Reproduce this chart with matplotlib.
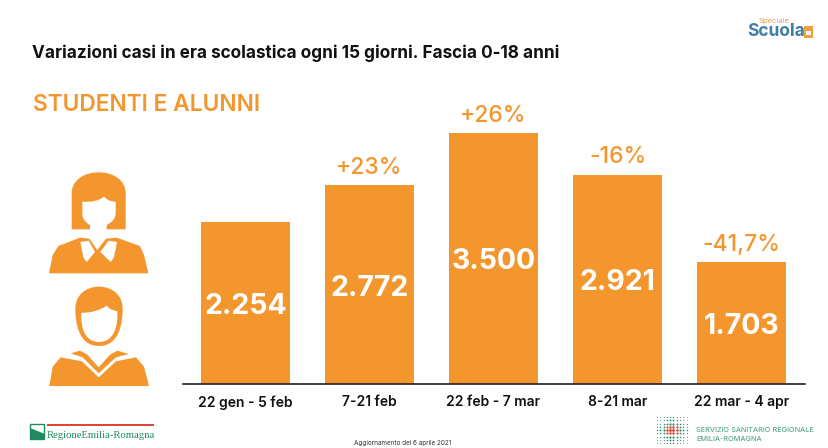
# Variazioni casi in era scolastica, fascia 0-18 anni

import matplotlib
matplotlib.use("Agg")
import matplotlib.pyplot as plt
from matplotlib.patches import Polygon, PathPatch, Rectangle
from matplotlib.path import Path

periods = ["22 gen - 5 feb", "7-21 feb", "22 feb - 7 mar", "8-21 mar", "22 mar - 4 apr"]
cases = [2254, 2772, 3500, 2921, 1703]
case_labels = ["2.254", "2.772", "3.500", "2.921", "1.703"]
changes = ["", "+23%", "+26%", "-16%", "-41,7%"]

orange = "#F4962E"
W, H = 829, 448

plt.rcParams['font.family'] = ['Inter', 'DejaVu Sans']
fig = plt.figure(figsize=(W/100, H/100), dpi=100)

# main chart, placed by pixel position of the baseline
left, right, top, bottom = 183, 805, 100, 384
ax = fig.add_axes([left/W, 1-bottom/H, (right-left)/W, (bottom-top)/H])
ax.bar(range(len(cases)), cases, width=0.718, color=orange)
ax.set_xlim(-0.504, 4.512)
ax.set_ylim(0, 3960)
for s in ("top", "left", "right"):
  ax.spines[s].set_visible(False)
ax.spines["bottom"].set_linewidth(1.2)
ax.spines["bottom"].set_color("#222222")
ax.set_yticks([])
ax.set_xticks(range(len(periods)))
ax.set_xticklabels(periods, fontsize=10, fontweight="semibold", color="#111111")
ax.tick_params(axis='x', length=0, pad=8)
ax.patch.set_alpha(0)

for i, v in enumerate(cases):
  ax.annotate(case_labels[i], (i, v/2), ha='center', va='center', fontsize=20.5,
              fontweight="bold", color="white", xytext=(0, -2.5), textcoords="offset points")
  if changes[i]:
    ax.annotate(changes[i], (i, v), ha='center', va='bottom', fontsize=16.5,
                fontweight="medium", color=orange, xytext=(0, 4.5), textcoords="offset points")

# overlay in pixel coordinates for the slide furniture
ov = fig.add_axes([0, 0, 1, 1], zorder=-1)
ov.set_xlim(0, W)
ov.set_ylim(H, 0)
ov.axis("off")

ov.text(32, 53, "Variazioni casi in era scolastica ogni 15 giorni. Fascia 0-18 anni",
        fontsize=12.37, fontweight="bold", color="#111111", va="center")
ov.text(33, 105, "STUDENTI E ALUNNI", fontsize=16.4, fontweight="semibold", color=orange, va="center")
ov.text(354, 443, "Aggiornamento del 6 aprile 2021", fontsize=4.6, color="#333333", va="center")


def z(pts, x0=0, y0=150):
  return [(x0 + x/3, y0 + y/3) for x, y in pts]


def shape(codes_pts, color):
  verts, codes = [], []
  for c, p in codes_pts:
    verts.append(z([p])[0])
    codes.append(c)
  ov.add_patch(PathPatch(Path(verts, codes), fc=color, ec="none"))


M, L, C, B, X = Path.MOVETO, Path.LINETO, Path.CURVE3, Path.CURVE4, Path.CLOSEPOLY

# woman: hair
shape([(M, (215, 238)), (L, (215, 130)), (B, (215, 92)), (B, (250, 67)), (B, (296, 67)),
       (B, (342, 67)), (B, (377, 92)), (B, (377, 130)),
       (L, (377, 238)), (L, (320, 238)), (L, (320, 225)), (C, (347, 212)), (C, (347, 190)), (L, (347, 155)),
       (C, (325, 155)), (C, (312, 140)), (C, (290, 158)), (C, (247, 155)), (L, (247, 195)), (C, (250, 215)),
       (C, (270, 225)), (L, (270, 238)), (X, (215, 238))], orange)
# woman: body, with a white neck and collar cut into it
ov.add_patch(Polygon(z([(147, 370), (158, 315), (175, 288), (240, 263), (268, 266), (292, 300), (318, 266),
                        (350, 263), (420, 288), (432, 315), (445, 370)]), fc=orange, ec="none"))
ov.add_patch(Polygon(z([(241, 276), (266, 272), (285, 306), (260, 336), (250, 322)]), fc="white", ec="none"))
ov.add_patch(Polygon(z([(351, 276), (326, 272), (301, 306), (332, 336), (342, 322)]), fc="white", ec="none"))

# man: hair and face outline
shape([(M, (226, 475)), (B, (226, 435)), (B, (258, 410)), (B, (297, 410)),
       (B, (336, 410)), (B, (368, 435)), (B, (368, 475)),
       (B, (368, 520)), (B, (358, 588)), (B, (297, 588)),
       (B, (236, 588)), (B, (226, 520)), (B, (226, 475)), (X, (226, 475))], orange)
shape([(M, (244, 488)), (C, (285, 490)), (C, (320, 467)), (C, (330, 480)), (C, (352, 484)),
       (B, (354, 530)), (B, (342, 576)), (B, (297, 576)),
       (B, (252, 576)), (B, (242, 530)), (B, (244, 488)), (X, (244, 488))], "white")
# man: body
ov.add_patch(Polygon(z([(148, 708), (158, 650), (182, 622), (246, 634), (296, 682), (348, 634), (408, 622),
                        (432, 650), (447, 708)]), fc=orange, ec="none"))
ov.add_patch(Polygon(z([(212, 610), (240, 602), (262, 614), (296, 652), (330, 614), (352, 602), (386, 612),
                        (348, 622), (296, 670), (248, 622)]), fc=orange, ec="none"))

# Regione Emilia-Romagna logo
ov.add_patch(Rectangle((47, 424), 107, 2, fc="#D9473A", ec="none"))
ov.add_patch(Rectangle((30.5, 424.5), 14, 15, fc="white", ec="#1F8A5F", lw=1))
ov.add_patch(Polygon([(30, 428), (45, 434), (45, 440), (30, 440)], fc="#1F8A5F", ec="none"))
ov.text(46.5, 436, "RegioneEmilia-Romagna", family="Liberation Serif", fontsize=7.7, color="#1F8A5F", va="center")

# Servizio sanitario logo: dot grid
dots_x = [657 + 3.3*i for i in range(10)]
dots_y = [417 + 3.3*j for j in range(9)]
for i, dx in enumerate(dots_x):
  for j, dy in enumerate(dots_y):
    d = abs(i-4.5) + abs(j-4)
    col = "#D9473A" if abs(i-4.5) < 2 and abs(j-4) < 2 else "#2E8B63"
    ov.plot(dx, dy, marker="o", ms=max(0.5, 2.2-0.25*d), color=col, mew=0)
ov.text(696, 430, "SERVIZIO SANITARIO REGIONALE", fontsize=5.3, color="#3E9A78", va="center")
ov.text(696, 439, "EMILIA-ROMAGNA", fontsize=5.3, color="#3E9A78", va="center")

# Speciale Scuola logo
ov.text(774, 21, "Speciale", fontsize=5.5, color="#E8A05A", ha="center", va="center")
ov.text(747, 31, "Scuola", fontsize=12.5, fontweight="bold", color="#3F7FA6", va="center")
ov.add_patch(Rectangle((804, 26), 9, 12, fc="#F0A040", ec="none"))
ov.add_patch(Rectangle((806, 31), 5, 4, fc="white", ec="none"))

plt.savefig("out.png", dpi=100)
